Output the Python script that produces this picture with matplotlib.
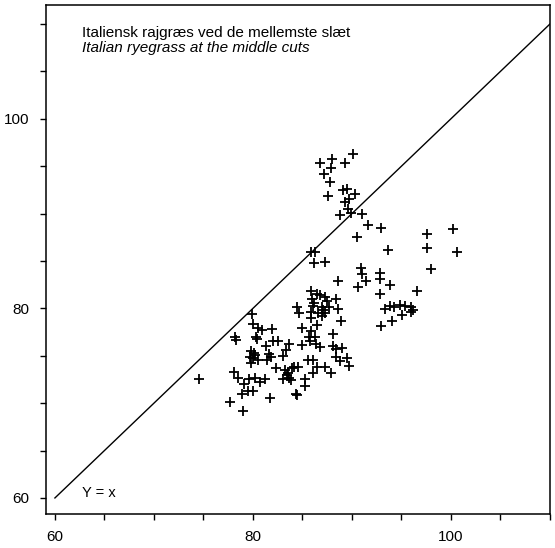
import matplotlib
matplotlib.use("Agg")
import matplotlib.pyplot as plt
import numpy as np

plt.rcParams['font.family'] = ['Liberation Sans', 'DejaVu Sans']

# x values (middle cuts, reference) and y values
x_top = [86.8, 88.0, 87.9, 89.3, 90.1, 87.2, 87.8, 87.6, 89.1, 89.5, 89.3, 90.3, 89.7,
         89.6, 88.8, 89.9, 91.0, 91.6, 92.9, 90.5, 93.6, 97.6, 97.6, 100.2, 100.6, 98.0,
         85.9, 86.3, 86.2, 87.3]
y_top = [95.3, 95.8, 94.8, 95.3, 96.3, 94.2, 93.3, 91.8, 92.5, 92.6, 91.2, 92.1, 91.5,
         90.5, 89.8, 90.1, 89.9, 88.8, 88.5, 87.5, 86.2, 87.8, 86.4, 88.4, 85.9, 84.2,
         85.9, 85.9, 84.8, 84.9]

x_mid = [85.9, 86.5, 86.8, 86.0, 87.3, 88.4, 87.5, 86.1, 87.0, 87.7, 88.6, 84.4, 84.7,
         85.9, 86.6, 87.3, 87.0, 85.9, 86.5, 88.9, 85.0, 85.9, 88.1, 85.7, 86.3, 86.4,
         86.8, 85.0, 88.1, 88.4, 89.0, 88.4, 88.8, 89.5, 89.7, 85.6, 86.1, 86.5, 87.3,
         87.9, 86.1, 85.3, 85.3, 84.3, 84.4, 86.2, 87.1, 85.8]
y_mid = [81.8, 81.5, 81.4, 81.0, 81.2, 81.0, 80.8, 80.3, 80.1, 80.1, 79.9, 80.1, 79.5,
         79.6, 79.5, 79.5, 79.2, 79.0, 78.2, 78.7, 77.9, 77.6, 77.3, 77.0, 77.0, 76.2,
         75.9, 76.1, 76.0, 75.7, 75.8, 74.9, 74.4, 74.8, 73.9, 74.5, 74.6, 73.8, 73.8,
         73.2, 73.2, 72.6, 71.8, 71.0, 70.9, 80.6, 79.8, 76.6]

x_left = [79.9, 80.0, 80.9, 80.5, 81.9, 80.3, 80.4, 78.2, 78.3, 81.3, 82.0, 82.5, 79.8,
          80.2, 79.7, 80.0, 81.6, 81.8, 81.4, 83.3, 83.6, 83.0, 79.8, 80.5, 82.3, 78.1,
          78.5, 79.1, 79.6, 80.2, 80.7, 81.2, 79.5, 78.9, 80.0, 81.7, 77.7, 79.0, 83.2,
          83.6, 83.9, 83.5, 83.0, 83.8, 84.1, 84.5, 74.6, 80.1, 83.4]
y_left = [79.4, 78.4, 77.7, 77.9, 77.8, 77.0, 76.8, 77.0, 76.7, 76.0, 76.6, 76.6, 75.5,
          75.1, 74.9, 74.8, 75.2, 74.9, 74.6, 75.6, 76.2, 75.0, 74.2, 74.6, 73.7, 73.3,
          72.7, 72.0, 72.6, 72.7, 72.2, 72.5, 71.3, 71.0, 71.3, 70.5, 70.1, 69.2, 73.5,
          72.7, 73.7, 73.2, 72.6, 72.4, 73.8, 73.8, 72.5, 75.3, 73.0]

x_right = [90.9, 91.0, 91.4, 90.6, 92.8, 92.8, 93.8, 92.8, 96.6, 88.6, 93.3, 94.2, 94.9,
           95.4, 96.0, 96.2, 95.1, 96.0, 92.9, 94.0, 93.8]
y_right = [84.3, 83.6, 82.9, 82.3, 83.7, 83.1, 82.5, 81.5, 81.8, 82.9, 79.9, 80.1, 80.4,
           80.3, 80.1, 79.8, 79.3, 79.6, 78.1, 78.7, 80.3]

ref_line = [60, 110]
x_ticks = [60, 80, 100]
y_ticks = [60, 80, 100]

fig = plt.figure(figsize=(5.55, 5.48), dpi=100)
ax = fig.add_axes([0.0829, 0.0626, 0.9081, 0.9283])

xs = x_top + x_mid + x_left + x_right
ys = y_top + y_mid + y_left + y_right
ax.plot(xs, ys, linestyle='none', marker='+', color='black', ms=6.5, mew=1.3)
ax.plot(ref_line, ref_line, color='black', lw=1.0)

ax.set_xlim(59.1, 110.0)
ax.set_ylim(58.34, 112.0)
ax.set_xticks(np.arange(60, 111, 5))
ax.set_xticklabels([str(t) if t in x_ticks else '' for t in np.arange(60, 111, 5)])
ax.set_yticks(np.arange(60, 111, 5))
ax.set_yticklabels([str(t) if t in y_ticks else '' for t in np.arange(60, 111, 5)])
ax.tick_params(axis='x', direction='out', length=4.5, width=1, pad=7, labelsize=11)
ax.tick_params(axis='y', direction='out', length=4, width=1, pad=8, labelsize=11)
for s in ax.spines.values():
    s.set_linewidth(1.1)

ax.text(0.071, 0.944, 'Italiensk rajgræs ved de mellemste slæt', transform=ax.transAxes,
        fontsize=11, ha='left', va='center')
ax.text(0.071, 0.915, 'Italian ryegrass at the middle cuts', transform=ax.transAxes,
        fontsize=11, ha='left', va='center', style='italic')
ax.text(0.071, 0.041, 'Y = x', transform=ax.transAxes, fontsize=10.5, ha='left', va='center')

fig.savefig('out.png', dpi=100)
